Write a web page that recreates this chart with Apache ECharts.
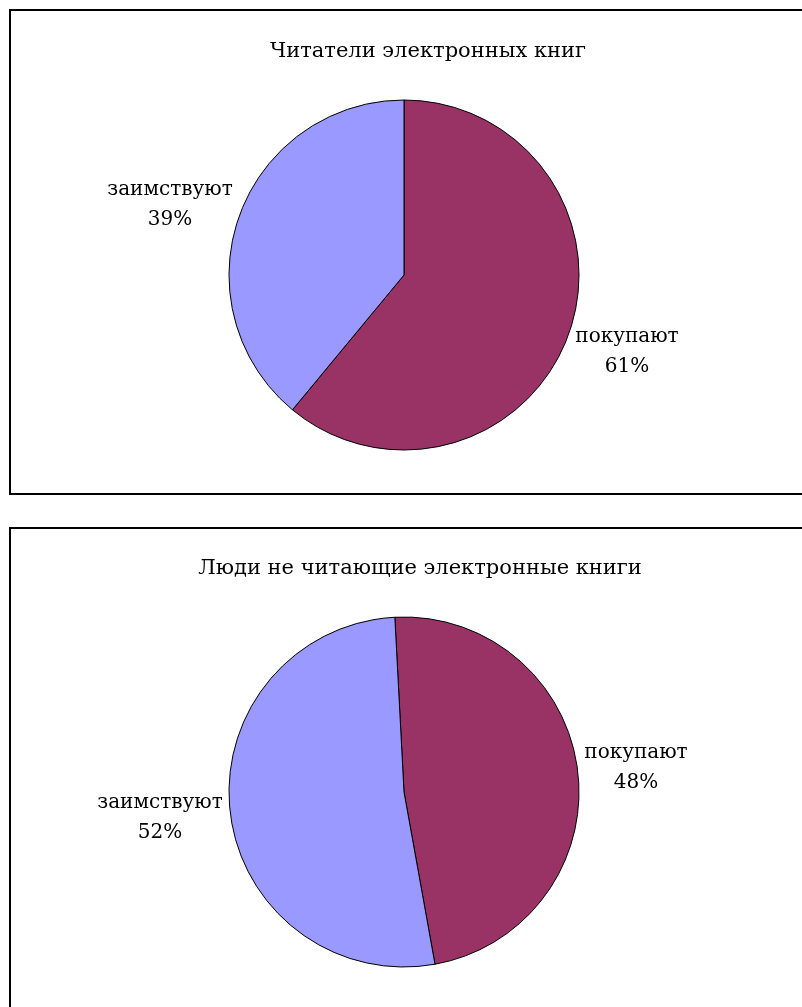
<!DOCTYPE html>
<html>
<head>
<meta charset="utf-8">
<script src="https://cdn.jsdelivr.net/npm/echarts@6/dist/echarts.min.js"></script>
<style>
  html, body { margin: 0; padding: 0; background: #fff; }
  #chart { width: 802px; height: 1007px; }
</style>
</head>
<body>
<div id="chart"></div>
<script>
// data
var categories = ['покупают', 'заимствуют'];
var readersValues = [61, 39];
var nonReadersValues = [48, 52];
var chartTitles = ['Читатели электронных книг', 'Люди не читающие электронные книги'];

var sliceColors = ['#993366', '#9999ff'];
var font = '"DejaVu Serif", "Liberation Serif", serif';

// where Excel put the labels (centre of each text block)
var labelSpots = [
    [[627, 352], [170, 205]],
    [[636, 768], [160, 818]]
];

function toData(values) {
    return categories.map(function (name, i) {
        return { name: name, value: values[i] };
    });
}

function makePie(values, centerY, startAngle, spots) {
    return {
        type: 'pie',
        radius: 175,
        center: [404, centerY],
        startAngle: startAngle,
        clockwise: true,
        color: sliceColors,
        animation: false,
        emphasis: { disabled: true },
        itemStyle: { borderColor: '#000', borderWidth: 1 },
        label: {
            show: true,
            position: 'outside',
            fontFamily: font,
            fontSize: 20,
            lineHeight: 30,
            color: '#000',
            formatter: function (p) {
                return p.name + '\n' + Math.round(p.percent) + '%';
            }
        },
        labelLine: { show: false },
        labelLayout: function (p) {
            var s = spots[p.dataIndex];
            return { x: s[0], y: s[1], align: 'center', verticalAlign: 'middle' };
        },
        data: toData(values)
    };
}

var titleStyle = { fontFamily: font, fontSize: 21, fontWeight: 'normal', color: '#000' };

var myChart = echarts.init(document.getElementById('chart'));
var option = {
    backgroundColor: '#fff',
    animation: false,
    title: [{
        text: chartTitles[0],
        left: 423, top: 47,
        textAlign: 'center', textVerticalAlign: 'middle',
        textStyle: titleStyle
    }, {
        text: chartTitles[1],
        left: 415, top: 564,
        textAlign: 'center', textVerticalAlign: 'middle',
        textStyle: titleStyle
    }],
    graphic: [{
        type: 'rect',
        shape: { x: 10, y: 10, width: 820, height: 484 },
        style: { fill: 'none', stroke: '#000', lineWidth: 2 },
        silent: true
    }, {
        type: 'rect',
        shape: { x: 10, y: 528, width: 820, height: 500 },
        style: { fill: 'none', stroke: '#000', lineWidth: 2 },
        silent: true
    }],
    series: [
        makePie(readersValues, 275, 90, labelSpots[0]),
        makePie(nonReadersValues, 792, 93, labelSpots[1])
    ]
};
myChart.setOption(option);
</script>
</body>
</html>
